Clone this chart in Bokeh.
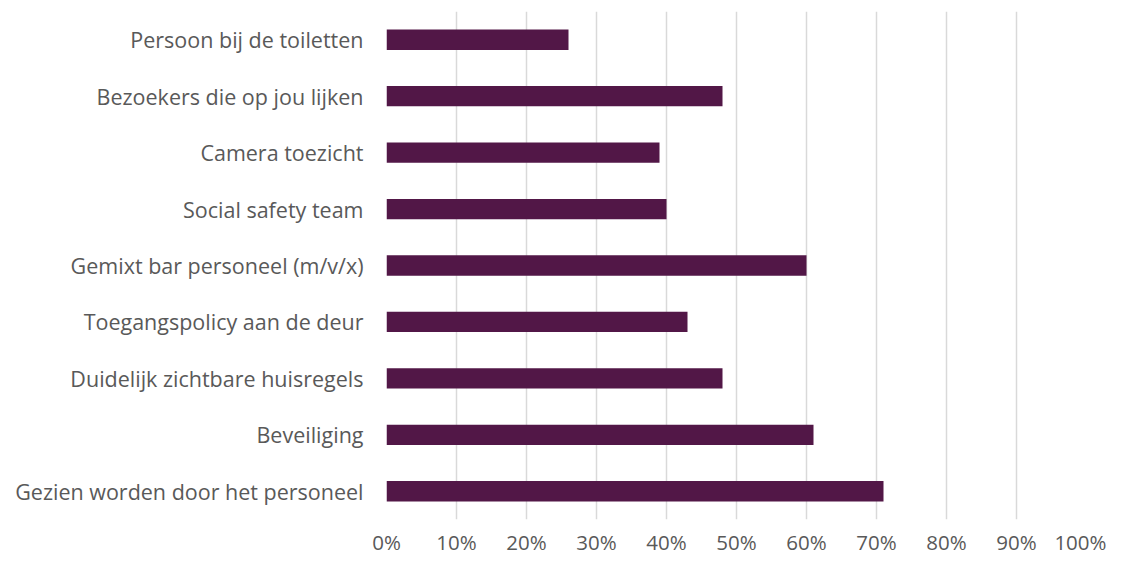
from bokeh.plotting import figure
from bokeh.models import FactorRange, Range1d, FixedTicker, NumeralTickFormatter
from bokeh.embed import file_html
from bokeh.resources import INLINE

categories = [
    "Persoon bij de toiletten",
    "Bezoekers die op jou lijken",
    "Camera toezicht",
    "Social safety team",
    "Gemixt bar personeel (m/v/x)",
    "Toegangspolicy aan de deur",
    "Duidelijk zichtbare huisregels",
    "Beveiliging",
    "Gezien worden door het personeel",
]
values = [0.26, 0.48, 0.39, 0.40, 0.60, 0.43, 0.48, 0.61, 0.71]
tick_values = [0, 0.1, 0.2, 0.3, 0.4, 0.5, 0.6, 0.7, 0.8, 0.9, 1.0]

factors = list(reversed(categories))

p = figure(
    y_range=FactorRange(factors=factors, range_padding=0),
    x_range=Range1d(0, 1),
    frame_width=700, frame_height=508,
    min_border_left=386, min_border_top=11, min_border_right=20, min_border_bottom=0,
    output_backend="svg", toolbar_location=None,
)
p.hbar(y=categories, right=values, left=0, height=0.36, color="#521747", line_color=None)

p.outline_line_color = None
p.background_fill_color = "white"
p.ygrid.grid_line_color = None
p.xgrid.grid_line_color = "#d9d9d9"
p.xgrid.grid_line_width = 1.5
p.xaxis.ticker = FixedTicker(ticks=tick_values)
p.xgrid.ticker = FixedTicker(ticks=tick_values)
p.xaxis.formatter = NumeralTickFormatter(format="0%")

for ax in (p.xaxis, p.yaxis):
    ax.axis_line_color = None
    ax.major_tick_line_color = None
    ax.minor_tick_line_color = None
    ax.major_tick_out = 0
    ax.major_tick_in = 0
    ax.major_label_text_color = "#595959"
    ax.major_label_text_font = "Open Sans"

p.yaxis.major_label_text_font_size = "21.5px"
p.xaxis.major_label_text_font_size = "20.5px"
p.yaxis.major_label_standoff = 23
p.xaxis.major_label_standoff = 8

open("out.html", "w").write(file_html(p, INLINE))
